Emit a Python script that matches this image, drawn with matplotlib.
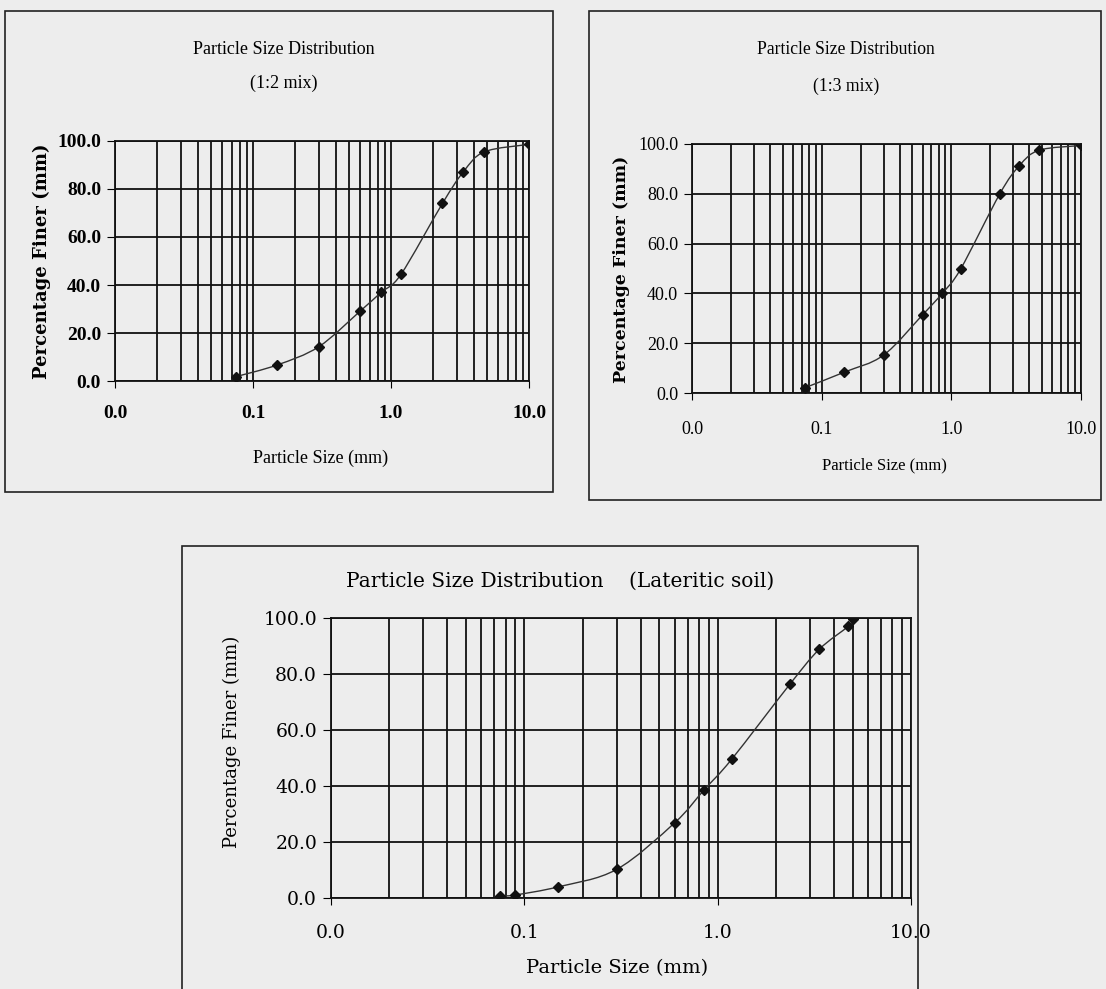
import numpy as np
import matplotlib
matplotlib.use("Agg")
import matplotlib.pyplot as plt
from matplotlib.path import Path
from matplotlib.patches import PathPatch, Rectangle

# sieve sizes (mm) and percentage finer
size_12 = [0.075, 0.15, 0.3, 0.6, 0.85, 1.18, 2.36, 3.35, 4.75, 10.0]
finer_12 = [1.8, 6.7, 14.3, 29.2, 37.0, 44.4, 74.0, 87.2, 95.5, 98.6]

size_13 = [0.075, 0.15, 0.3, 0.6, 0.85, 1.18, 2.36, 3.35, 4.75, 10.0]
finer_13 = [2.2, 8.4, 15.2, 31.4, 40.0, 49.8, 79.9, 91.3, 97.5, 99.4]

size_lat = [0.075, 0.09, 0.15, 0.3, 0.6, 0.85, 1.18, 2.36, 3.35, 4.75, 5.0]
finer_lat = [0.7, 1.1, 4.0, 10.2, 26.9, 38.6, 49.5, 76.3, 88.8, 97.1, 99.5]

x_ticks = [0.01, 0.1, 1.0, 10.0]
x_ticklabels = ["0.0", "0.1", "1.0", "10.0"]
y_ticks = [0, 20, 40, 60, 80, 100]

BG = "#ededed"


def smooth_line(ax, xs, ys):
    # excel-style smoothed line: catmull-rom as bezier segments in log-x space
    lx = np.log10(xs)
    y = np.asarray(ys, dtype=float)
    n = len(xs)
    verts = [(xs[0], y[0])]
    codes = [Path.MOVETO]
    for i in range(n - 1):
        a = i - 1 if i > 0 else i
        b = i + 2 if i + 2 < n else i + 1
        c1 = (lx[i] + (lx[i + 1] - lx[a]) / 6, y[i] + (y[i + 1] - y[a]) / 6)
        c2 = (lx[i + 1] - (lx[b] - lx[i]) / 6, y[i + 1] - (y[b] - y[i]) / 6)
        verts += [(10 ** c1[0], c1[1]), (10 ** c2[0], c2[1]), (xs[i + 1], y[i + 1])]
        codes += [Path.CURVE4] * 3
    ax.add_patch(PathPatch(Path(verts, codes), fill=False, edgecolor="#333333",
                           linewidth=1.0, zorder=3))
    ax.plot(xs, ys, linestyle="none", marker="D", markersize=5,
            color="#111111", zorder=4)


def setup(ax, font, tick_fs, weight, xpad):
    ax.set_xscale("log")
    ax.set_xlim(0.01, 10)
    ax.set_ylim(0, 100)
    ax.set_facecolor(BG)
    ax.set_xticks(x_ticks)
    ax.set_xticklabels(x_ticklabels)
    ax.set_yticks(y_ticks)
    ax.set_yticklabels([f"{v:.1f}" for v in y_ticks])
    ax.xaxis.set_minor_locator(matplotlib.ticker.LogLocator(base=10, subs=range(2, 10)))
    ax.xaxis.set_minor_formatter(matplotlib.ticker.NullFormatter())
    ax.grid(True, which="both", axis="x", color="#111111", linewidth=1.3)
    ax.grid(True, which="major", axis="y", color="#111111", linewidth=1.3)
    ax.tick_params(axis="x", which="minor", length=0)
    ax.tick_params(axis="x", which="major", direction="out", length=5, pad=xpad)
    ax.tick_params(axis="y", direction="out", length=6, pad=4)
    for s in ax.spines.values():
        s.set_color("#111111")
        s.set_linewidth(1.3)
    for lab in ax.get_xticklabels() + ax.get_yticklabels():
        lab.set_fontfamily(font)
        lab.set_fontsize(tick_fs)
        lab.set_fontweight(weight)


fig = plt.figure(figsize=(11.06, 9.89), dpi=100, facecolor=BG)

# chart frames (pixel boxes converted to figure fractions)
W, H = 1106, 989
for (x0, y0, x1, y1) in [(5, 11, 553, 492), (589, 11, 1101, 500), (182, 546, 918, 992)]:
    fig.add_artist(Rectangle((x0 / W, 1 - y1 / H), (x1 - x0) / W, (y1 - y0) / H,
                             transform=fig.transFigure, fill=False,
                             edgecolor="#222222", linewidth=1.2))

# 1:2 mix
ax1 = fig.add_axes([115 / W, 1 - 381 / H, (529 - 115) / W, (381 - 141) / H])
setup(ax1, "Liberation Serif", 14, "bold", 12)
smooth_line(ax1, size_12, finer_12)
fig.text(284 / W, 1 - 49 / H, "Particle Size Distribution", ha="center", va="center",
         family="Liberation Serif", fontsize=13)
fig.text(284 / W, 1 - 83 / H, "(1:2 mix)", ha="center", va="center",
         family="Liberation Serif", fontsize=13)
fig.text(321 / W, 1 - 458 / H, "Particle Size (mm)", ha="center", va="center",
         family="Liberation Serif", fontsize=13)
fig.text(42 / W, 1 - 261 / H, "Percentage Finer (mm)", ha="center", va="center",
         rotation=90, family="DejaVu Serif", fontweight="bold", fontsize=13)

# 1:3 mix
ax2 = fig.add_axes([692 / W, 1 - 393 / H, (1081 - 692) / W, (393 - 144) / H])
setup(ax2, "Liberation Serif", 13, "normal", 15)
smooth_line(ax2, size_13, finer_13)
fig.text(846 / W, 1 - 50 / H, "Particle Size Distribution", ha="center", va="center",
         family="Liberation Serif", fontsize=12.7)
fig.text(846 / W, 1 - 86 / H, "(1:3 mix)", ha="center", va="center",
         family="Liberation Serif", fontsize=12.7)
fig.text(884 / W, 1 - 465 / H, "Particle Size (mm)", ha="center", va="center",
         family="Liberation Serif", fontsize=12)
fig.text(622 / W, 1 - 269 / H, "Percentage Finer (mm)", ha="center", va="center",
         rotation=90, family="DejaVu Serif", fontweight="bold", fontsize=12.5)

# lateritic soil
ax3 = fig.add_axes([331 / W, 1 - 898 / H, (911 - 331) / W, (898 - 618) / H])
setup(ax3, "DejaVu Serif", 13.5, "normal", 14)
smooth_line(ax3, size_lat, finer_lat)
fig.text(560 / W, 1 - 581 / H, "Particle Size Distribution    (Lateritic soil)",
         ha="center", va="center", family="DejaVu Serif", fontsize=14.5)
fig.text(617 / W, 1 - 968 / H, "Particle Size (mm)", ha="center", va="center",
         family="DejaVu Serif", fontsize=14)
fig.text(232 / W, 1 - 742 / H, "Percentage Finer (mm)", ha="center", va="center",
         rotation=90, family="DejaVu Serif", fontsize=13)

fig.savefig("out.png", dpi=100, facecolor=BG)
